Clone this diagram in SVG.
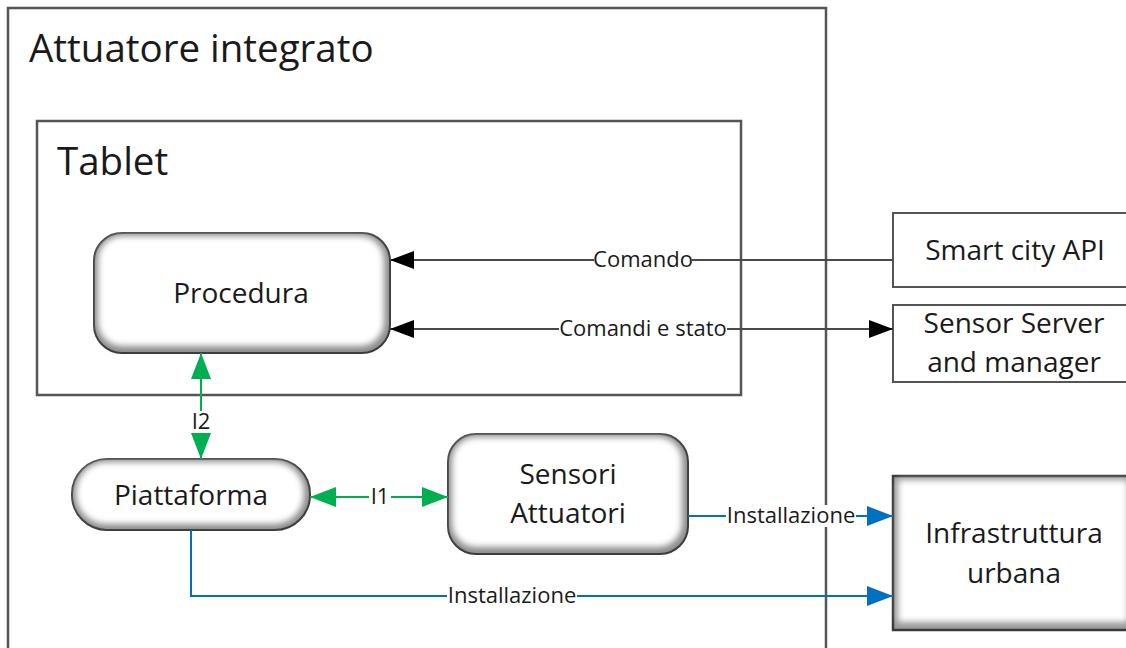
<svg xmlns="http://www.w3.org/2000/svg" width="1126" height="648" viewBox="0 0 1126 648">
<style>
.frame{fill:#fff;stroke:#555;stroke-width:2.5}
.title{font-family:"Open Sans","Liberation Sans",sans-serif;font-size:38.5px;fill:#1a1a1a}
.nt{font-family:"Open Sans","Liberation Sans",sans-serif;font-size:28px;fill:#1a1a1a;text-anchor:middle}
.lab{font-family:"Open Sans","Liberation Sans",sans-serif;font-size:22px;fill:#1a1a1a;text-anchor:middle}
.bevel{fill:#8c8c8c;stroke:#3a3a3a;stroke-width:2}
.inner{fill:#fff;filter:url(#blur)}
.cb{fill:none;stroke:#4a4a4a;stroke-width:2}
.cg{fill:none;stroke:#00b050;stroke-width:2}
.cbl{fill:none;stroke:#0070c0;stroke-width:2}
.lbg{fill:#fff}
</style>
<defs>
<filter id="blur" x="-10%" y="-10%" width="120%" height="120%"><feGaussianBlur stdDeviation="3"/></filter>
<marker id="ab" markerUnits="userSpaceOnUse" markerWidth="26" markerHeight="20" refX="24" refY="10" orient="auto-start-reverse"><path d="M0,1 L24,10 L0,19 Z" fill="#000"/></marker>
<marker id="ag" markerUnits="userSpaceOnUse" markerWidth="28" markerHeight="22" refX="26" refY="11" orient="auto-start-reverse"><path d="M0,1 L26,11 L0,21 Z" fill="#00b050"/></marker>
<marker id="abl" markerUnits="userSpaceOnUse" markerWidth="28" markerHeight="22" refX="26" refY="11" orient="auto-start-reverse"><path d="M0,1 L26,11 L0,21 Z" fill="#0070c0"/></marker>
</defs>

<g id="attuatore-integrato">
<rect class="frame" x="8" y="8" width="818" height="660"/>
<text class="title" x="29" y="62">Attuatore integrato</text>
</g>

<g id="tablet">
<rect class="frame" x="37" y="121" width="704" height="274"/>
<text class="title" x="57" y="175">Tablet</text>
</g>

<g id="procedura">
<rect class="bevel" x="94" y="233" width="296" height="120" rx="28"/>
<rect class="inner" x="98" y="236" width="286" height="110" rx="24"/>
<text class="nt" x="241" y="303">Procedura</text>
</g>

<g id="piattaforma">
<rect class="bevel" x="72" y="459" width="238" height="71" rx="35"/>
<rect class="inner" x="76" y="462" width="228" height="62" rx="30"/>
<text class="nt" x="191" y="505">Piattaforma</text>
</g>

<g id="sensori-attuatori">
<rect class="bevel" x="448" y="434" width="240" height="120" rx="28"/>
<rect class="inner" x="452" y="437" width="230" height="110" rx="24"/>
<text class="nt" x="568" y="484">Sensori</text>
<text class="nt" x="568" y="523">Attuatori</text>
</g>

<g id="smart-city-api">
<rect class="frame" x="893" y="213" width="240" height="74" style="stroke-width:2"/>
<text class="nt" x="1015" y="260">Smart city API</text>
</g>

<g id="sensor-server">
<rect class="frame" x="893" y="305" width="240" height="77" style="stroke-width:2"/>
<text class="nt" x="1014" y="333">Sensor Server</text>
<text class="nt" x="1014" y="372">and manager</text>
</g>

<g id="infrastruttura-urbana">
<rect x="893" y="476" width="240" height="154" fill="#999" stroke="#3a3a3a" stroke-width="2.5"/>
<rect class="inner" x="898" y="480" width="230" height="142"/>
<text class="nt" x="1014" y="543">Infrastruttura</text>
<text class="nt" x="1014" y="583">urbana</text>
</g>

<g id="connectors">
<path class="cb" d="M893,260 H390" marker-end="url(#ab)"/>
<rect class="lbg" x="594" y="249" width="98" height="22"/>
<text class="lab" x="643" y="267">Comando</text>

<path class="cb" d="M390,329 H893" marker-start="url(#ab)" marker-end="url(#ab)"/>
<rect class="lbg" x="559" y="318" width="168" height="22"/>
<text class="lab" x="643" y="336">Comandi e stato</text>

<path class="cg" d="M201,353 V459" marker-start="url(#ag)" marker-end="url(#ag)"/>
<rect class="lbg" x="190" y="411" width="22" height="22"/>
<text class="lab" x="201" y="429">I2</text>

<path class="cg" d="M310,497 H448" marker-start="url(#ag)" marker-end="url(#ag)"/>
<rect class="lbg" x="369" y="486" width="22" height="22"/>
<text class="lab" x="380" y="504">I1</text>

<path class="cbl" d="M688,516 H893" marker-end="url(#abl)"/>
<rect class="lbg" x="726" y="505" width="130" height="22"/>
<text class="lab" x="791" y="523">Installazione</text>

<path class="cbl" d="M191,530 V596 H893" marker-end="url(#abl)"/>
<rect class="lbg" x="447" y="585" width="130" height="22"/>
<text class="lab" x="512" y="603">Installazione</text>
</g>
</svg>
